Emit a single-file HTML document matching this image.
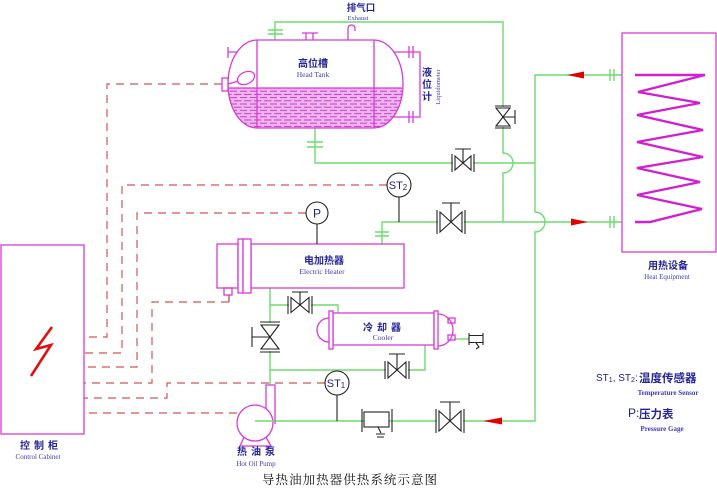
<!DOCTYPE html>
<html><head><meta charset="utf-8">
<style>
html,body{margin:0;padding:0;background:#fff;}
svg{display:block;}
.cn{font-family:"Liberation Sans","Noto Sans CJK SC",sans-serif;font-weight:bold;fill:#25259a;}
.en{font-family:"Liberation Serif",serif;fill:#3c3cb4;}
.lab{font-family:"Liberation Sans",sans-serif;fill:#22228a;}
</style></head><body>
<svg width="717" height="493" viewBox="0 0 717 493" xmlns="http://www.w3.org/2000/svg">
<defs>
<pattern id="hatch" width="10" height="6.4" patternUnits="userSpaceOnUse">
<rect width="10" height="6.4" fill="#f0b6f0"/>
<line x1="0" y1="1.6" x2="7" y2="1.6" stroke="#c42ec4" stroke-width="0.9"/>
<line x1="4" y1="4.8" x2="10" y2="4.8" stroke="#c42ec4" stroke-width="0.9"/>
<line x1="0" y1="4.8" x2="1.5" y2="4.8" stroke="#c42ec4" stroke-width="0.9"/>
</pattern>
<clipPath id="tankclip"><path d="M257,40 L374,40 A29,44 0 0 1 374,128 L257,128 A29,44 0 0 1 257,40 Z"/></clipPath>
</defs>
<rect width="717" height="493" fill="#fff"/>

<!-- dashed signal lines -->
<g fill="none" stroke="#d05656" stroke-width="1.2" stroke-dasharray="8,6">
<path d="M222,84 H107 V337 H84"/>
<path d="M387,185 H122 V353 H84"/>
<path d="M306,213 H137 V367 H84"/>
<path d="M229,302 H152 V383 H84"/>
<path d="M325,383 H167 V398 H84"/>
<path d="M237,413 H84"/>
</g>

<!-- green pipes -->
<g fill="none" stroke="#6ddb6d" stroke-width="1.4">
<path d="M275,40 V22 H503 V153 A10,10 0 0 1 503,173 V222"/>
<path d="M315,128 V163 H535"/>
<path d="M382,244 V222 H622"/>
<path d="M622,75 H535 V212 A10,10 0 0 1 535,232 V421 H255"/>
<path d="M270,288 V385"/>
<path d="M270,305 H338 V313"/>
<path d="M270,370 H425 V345"/>
<path d="M455,339 H469"/>
<path d="M268,30 H283 M268,34 H283"/>
<path d="M307,142 H323 M307,147 H323"/>
<path d="M375,232 H389 M375,236 H389"/>
<path d="M610,69 V81 M614,69 V81"/>
<path d="M610,216 V228 M614,216 V228"/>
</g>

<!-- head tank -->
<rect x="220" y="88" width="190" height="42" fill="url(#hatch)" clip-path="url(#tankclip)"/>
<g fill="none" stroke="#d83ad8" stroke-width="1.3">
<path d="M257,40 L374,40 A29,44 0 0 1 374,128 L257,128 A29,44 0 0 1 257,40 Z"/>
<path d="M257,40 V128 M374,40 V128"/>
<path d="M229,88 H402" clip-path="url(#tankclip)"/>
<path d="M302,33 H318 M306,33 V40 M313,33 V40"/>
<path d="M348,40 V29 Q348,25 351.5,25 Q355,25 355,29 V31"/>
<path d="M228,47 V58 M228,52 H237"/>
<rect x="222" y="78" width="6" height="13" fill="#fff"/>
<path d="M228,84 L239,81"/>
<ellipse cx="246" cy="78" rx="9" ry="6" transform="rotate(-25 246 78)" fill="#fff"/>
<path d="M394,52 H420 V117 H393"/>
<path d="M409,46 V58 M413,46 V58 M409,111 V123 M413,111 V123"/>
</g>

<!-- heater -->
<g fill="none" stroke="#d83ad8" stroke-width="1.3">
<rect x="251" y="244" width="153" height="44"/>
<rect x="217" y="244" width="21" height="44"/>
<rect x="238" y="239" width="5" height="54" fill="#fff"/>
<rect x="243" y="239" width="8" height="54" fill="#fff"/>
<rect x="224" y="288" width="8" height="7"/>
<path d="M229,295 V302" stroke="#b0506a"/>
</g>

<!-- cooler -->
<g fill="none" stroke="#d83ad8" stroke-width="1.3">
<rect x="333" y="313" width="101" height="32"/>
<path d="M329,318 A12,12 0 0 0 329,342"/>
<rect x="329" y="311" width="4" height="38" fill="#fff"/>
<path d="M438,314 A15,16 0 0 1 438,346"/>
<rect x="434" y="311" width="4" height="38" fill="#fff"/>
<rect x="448" y="318" width="7" height="5"/>
<rect x="448" y="335" width="7" height="5"/>
</g>
<g fill="none" stroke="#222" stroke-width="1.1">
<path d="M469,333 V345 M483,333 V345 M469,335.5 H483 M469,342.5 H483"/>
<path d="M476,343 L479,347 L476,349"/>
</g>

<!-- pump -->
<g fill="none" stroke="#d83ad8" stroke-width="1.3">
<circle cx="255" cy="423" r="18" fill="#fff"/>
<path d="M266,409 V385 H275 V424"/>
<path d="M244,437 L240,446 H271 L266,437"/>
</g>
<path d="M255,421 H275" stroke="#6ddb6d" stroke-width="1.4"/>

<!-- equipment -->
<rect x="622" y="33" width="94" height="219" fill="none" stroke="#d83ad8" stroke-width="1.3"/>
<polyline points="635,75 705,75 638,92 700,103 637,115 703,130 637,142 703,157 637,168 700,182 637,195 702,209 650,222 635,222" fill="none" stroke="#d020d0" stroke-width="2.4" stroke-linejoin="miter"/>

<!-- control cabinet -->
<rect x="1" y="245" width="83" height="189" fill="none" stroke="#d83ad8" stroke-width="1.3"/>
<polyline points="52,327 36,349 51,345 31,376" fill="none" stroke="#e01010" stroke-width="2.6" stroke-linejoin="miter"/>

<!-- valves -->
<g stroke="#222" stroke-width="1.1" fill="#fff">
<rect x="438" y="211" width="26" height="22" stroke="none"/>
<path d="M440,212 L462,232 L462,212 L440,232 Z"/>
<path d="M437,210 V234 M465,210 V234 M451,222 V203 M442,203 H460" fill="none"/>
<rect x="453" y="155" width="20" height="16" stroke="none"/>
<path d="M455,156 L471,170 L471,156 L455,170 Z"/>
<path d="M452,154 V172 M474,154 V172 M463,163 V149 M455,149 H471" fill="none"/>
<rect x="289" y="297" width="22" height="16" stroke="none"/>
<path d="M291,297.5 L309,312.5 L309,297.5 L291,312.5 Z"/>
<path d="M288,296 V314 M312,296 V314 M300,305 V292 M292,292 H308" fill="none"/>
<rect x="386" y="362" width="22" height="16" stroke="none"/>
<path d="M388,362 L406,378 L406,362 L388,378 Z"/>
<path d="M385,361 V379 M409,361 V379 M397,370 V354 M389,354 H405" fill="none"/>
<rect x="437" y="410" width="26" height="22" stroke="none"/>
<path d="M439,411 L461,431 L461,411 L439,431 Z"/>
<path d="M436,409 V433 M464,409 V433 M450,421 V402 M440,402 H460" fill="none"/>
<rect x="495" y="107" width="16" height="20" stroke="none"/>
<path d="M496,108 L510,108 L496,126 L510,126 Z"/>
<path d="M495,106 H511 M495,128 H511 M503,117 H515 M515,110 V124" fill="none"/>
<rect x="260" y="323" width="20" height="28" stroke="none"/>
<path d="M261,325 L279,325 L261,349 L279,349 Z"/>
<path d="M260,322 H280 M260,352 H280 M270,337 H252 M252,327 V347" fill="none"/>
<rect x="364" y="412" width="25" height="15"/>
<path d="M362,409 V432 M392,409 V432 M378,427 L381,433 M376,434 H385 M377,437 H384" fill="none"/>
</g>

<!-- gauges -->
<g stroke="#222" stroke-width="1.1">
<path d="M317,224 V244 M399,197 V222 M337,395 V421" fill="none"/>
<circle cx="317" cy="213" r="11" fill="#fff"/>
<circle cx="399" cy="185" r="12" fill="#fff"/>
<circle cx="337" cy="383" r="12" fill="#fff"/>
</g>
<text x="317" y="217.5" text-anchor="middle" class="lab" font-size="12">P</text>
<text x="398" y="189" text-anchor="middle" class="lab" font-size="11">ST<tspan font-size="8" dy="1">2</tspan></text>
<text x="336" y="387" text-anchor="middle" class="lab" font-size="11">ST<tspan font-size="8" dy="1">1</tspan></text>

<!-- arrows -->
<g fill="#e00000">
<polygon points="567,75 584,71.5 584,78.5"/>
<polygon points="588,222 571,218.5 571,225.5"/>
<polygon points="483,421 502,417.5 502,424.5"/>
</g>

<!-- labels -->
<text x="361" y="11" text-anchor="middle" class="cn" font-size="9.5">排气口</text>
<text x="358" y="20" text-anchor="middle" class="en" font-size="6.5">Exhaust</text>
<text x="313" y="67" text-anchor="middle" class="cn" font-size="10">高位槽</text>
<text x="313" y="77" text-anchor="middle" class="en" font-size="7.5">Head Tank</text>
<text x="427" y="76" text-anchor="middle" class="cn" font-size="10">液</text>
<text x="427" y="88" text-anchor="middle" class="cn" font-size="10">位</text>
<text x="427" y="100" text-anchor="middle" class="cn" font-size="10">计</text>
<text x="0" y="0" text-anchor="middle" class="en" font-size="6.5" transform="translate(440,87) rotate(-90)">Liquidometer</text>
<text x="324" y="264" text-anchor="middle" class="cn" font-size="10">电加热器</text>
<text x="322" y="274" text-anchor="middle" class="en" font-size="7.5">Electric Heater</text>
<text x="384" y="331" text-anchor="middle" class="cn" font-size="10" letter-spacing="4">冷却器</text>
<text x="383" y="340" text-anchor="middle" class="en" font-size="7.5">Cooler</text>
<text x="668" y="269" text-anchor="middle" class="cn" font-size="10">用热设备</text>
<text x="667" y="279" text-anchor="middle" class="en" font-size="7">Heat Equipment</text>
<text x="41" y="449" text-anchor="middle" class="cn" font-size="10" letter-spacing="4">控制柜</text>
<text x="38" y="459" text-anchor="middle" class="en" font-size="7">Control Cabinet</text>
<text x="258" y="455" text-anchor="middle" class="cn" font-size="10" letter-spacing="4">热油泵</text>
<text x="256" y="466" text-anchor="middle" class="en" font-size="7">Hot Oil Pump</text>

<!-- legend -->
<text x="596" y="381" class="lab" font-size="10">ST<tspan font-size="7" dy="1">1</tspan><tspan dy="-1">, ST</tspan><tspan font-size="7" dy="1">2</tspan><tspan dy="-1">:</tspan></text>
<text x="639" y="382" class="cn" font-size="11.5">温度传感器</text>
<text x="668" y="395" text-anchor="middle" class="en" font-size="7" font-weight="bold">Temperature Sensor</text>
<text x="628" y="417" class="lab" font-size="12">P:</text>
<text x="639" y="418" class="cn" font-size="11.5">压力表</text>
<text x="662" y="431" text-anchor="middle" class="en" font-size="7" font-weight="bold">Pressure Gage</text>

<!-- caption -->
<text x="262" y="484" font-family="'Liberation Serif','Noto Serif CJK SC',serif" font-size="12.5" fill="#111" textLength="175" lengthAdjust="spacing">导热油加热器供热系统示意图</text>
</svg>
</body></html>
